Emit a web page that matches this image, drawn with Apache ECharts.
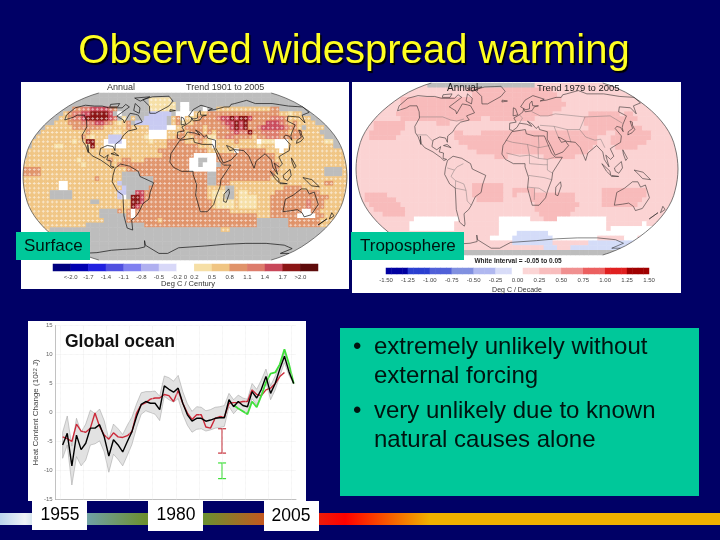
<!DOCTYPE html>
<html>
<head>
<meta charset="utf-8">
<script src="https://cdn.jsdelivr.net/npm/echarts@6/dist/echarts.min.js"></script>
<style>
  html, body { margin: 0; background: #000066; }
  #main { width: 720px; height: 540px; }
</style>
</head>
<body>
<div id="main"></div>
<script>
// ocean heat content
var oceanYears = [1955.5,1956.5,1957.5,1958.5,1959.5,1960.5,1961.5,1962.5,1963.5,1964.5,
  1965.5,1966.5,1967.5,1968.5,1969.5,1970.5,1971.5,1972.5,1973.5,1974.5,
  1975.5,1976.5,1977.5,1978.5,1979.5,1980.5,1981.5,1982.5,1983.5,1984.5,
  1985.5,1986.5,1987.5,1988.5,1989.5,1990.5,1991.5,1992.5,1993.5,1994.5,
  1995.5,1996.5,1997.5,1998.5,1999.5,2000.5,2001.5,2002.5,2003.5,2004.5,2005.5];
var blackLine = [-5.6,-3.6,-9.2,-3.9,-6.4,-5.3,-2.7,-2.7,-2.1,-4.2,
  -7.5,-4.7,-5.6,-6.8,-5.0,-3.3,-0.7,1.4,1.9,1.6,
  1.6,0.5,4.6,4.0,3.5,4.2,1.6,-0.4,-1.5,-1.0,
  -1.0,-1.5,-1.3,-1.0,-0.9,-0.9,2.2,1.0,1.9,1.2,
  1.0,3.6,2.5,4.0,6.2,3.3,5.0,7.5,9.7,7.0,5.0];
var redLine = [-4.2,-4.5,-5.0,-2.0,-3.2,-3.4,-2.7,-0.1,-2.4,-3.9,
  -4.6,-3.5,-4.2,-4.3,-4.0,-3.3,-0.1,1.3,1.7,2.3,
  2.5,2.5,3.1,2.9,1.9,3.8,1.6,-0.1,-1.2,-0.4,
  -0.4,-2.5,-2.7,-1.0,-0.7,-0.8,1.6,1.7,1.7,1.9,
  1.9,3.9,3.1,2.9,3.9,4.2,5.0,6.2,6.9];
var greenYears = [1992.5,1993.5,1994.5,1995.5,1996.5,1997.5,1998.5,1999.5,2000.5,2001.5,2002.5,2003.5,2004.5,2005.5];
var greenLine = [1.3,0.7,0.2,-0.3,1.9,0.9,2.9,5.2,6.7,6.9,8.3,10.9,8.3,5.0];
var bandUpper = [-3.4,-0.6,-5.8,-1.0,-3.4,-2.0,0.4,-0.2,0.6,-1.4,
  -4.6,-2.0,-2.8,-3.8,-2.2,-0.8,1.5,3.4,3.6,3.6,
  3.7,2.8,6.3,6.0,5.4,6.4,3.6,1.5,0.2,1.0,
  0.9,0.3,0.5,0.9,1.0,1.2,3.3,2.2,3.0,2.5,
  2.3,5.0,4.0,5.6,7.5,4.6,6.3,8.3,10.3,7.4,5.1];
var bandLower = [-7.9,-5.6,-12.5,-7.6,-9.2,-8.2,-5.6,-5.4,-4.9,-6.8,
  -10.3,-7.2,-8.1,-9.2,-7.4,-5.5,-2.6,-0.3,0.3,0.0,
  -0.3,-1.4,2.8,2.2,1.8,2.4,-0.3,-2.2,-3.4,-2.9,
  -2.8,-3.2,-3.0,-2.7,-2.6,-2.4,1.0,-0.2,0.7,0.1,
  -0.1,2.4,1.3,2.9,5.1,2.2,3.9,6.3,8.6,6.4,4.9];
var errorBars = [[1990,-7.0,-2.8],[1990,-11.4,-8.7]];
var gridYears = [1955,1960,1965,1970,1975,1980,1985,1990,1995,2000,2005];

// surface trend map, 5 degree cells, one string per row from the north
var surfaceKeys = '.wb1234567';
var surfaceRows = [
'............ ............ ............ ............ ............ ............',
'............ ............ ....11111... ............ ............ ............',
'............ ............ ....111111.w w........... ............ ............',
'...........3 344555543... ....111111.w w...w..22222 222222233... ............',
'.........234 45566665.w.. ....bbbbb.ww ww2223333333 333333333221 22..........',
'........2234 456666654.1. 2..bbbbb.23w 212333345565 665333344432 2222........',
'.......22233 344455432123 .bbbbbbb.231 223333334556 563333555432 32222.......',
'.....2222223 333333222223 2222bbbbww22 333323333456 563345555543 32.2222.....',
'....22222222 223222221122 2222wwww2223 233323233345 446334444332 332222......',
'...222222222 2321222bbb22 2221wwww2233 223331133443 333233444333 3322222.....',
'..2222222221 226622wbbbw2 222212223333 222321w22223 2222w111www2 222222211...',
'..2222211222 221622wwwww2 222222223333 333222w22222 22221222www2 222222222...',
'.22222222222 222222222222 222222333333 33333222222w 333333222w22 222222222222',
'.22222222222 222222222222 222222233333 33wwwww33333 333333332222 222222222222',
'222222222222 122222232233 222333333333 3ww..ww33333 333333332222 222222222222',
'222222222222 212222222333 333333333333 3ww.www.3333 333333333222 222222222222',
'333322222222 222222222223 333333333333 3wwwwww33333 333333333222 2222222....2',
'333322222222 2222222222.. ..3333333333 33333..33333 333333332222 2222222....2',
'222222222222 2222322222.. .....3333333 33333..33333 333333322222 222222222222',
'22222222ww22 222222222b.. .....3333333 33333..33322 222222222222 222222233222',
'22222222ww22 2222222222b. ....33333333 333332222..2 222222222233 332222222222',
'222222.....2 222222222bb. .55333333333 333332111..2 112222223333 333333222222',
'222222.....2 222222222bw. 665333333333 333332111..2 111122233333 333333332222',
'222222222222 222..2222222 665333333333 333333211112 111122233333 333433322222',
'222222222222 222222222222 653333333333 333333211112 111122233333 333433322222',
'222222222222 22222....323 w33333333333 333333333322 222222233333 33ww33222222',
'222222222222 22222......3 w33333333333 333333333333 333322233333 3wwww3322222',
'222222222222 222222.....3 333333233333 333333333333 3333.......3 333333222222',
'222222222222 22.......... ...333333333 333333333333 3333.......3 333333222222',
'222222...... ............ ............ ........22.. ............ ............',
'............ ............ ............ ............ ............ ............',
'............ ............ ............ ............ ............ ............',
'............ ............ ............ ............ ............ ............',
'............ ............ ............ ............ ............ ............',
'............ ............ ............ ............ ............ ............',
'............ ............ ............ ............ ............ ............'
];
var surfaceColors = ['#BDBDBD','#FFFFFF','#C9CBF2','#F6DFA6','#F0C583','#E0936A','#DD7C6C','#C8485A','#8B1515','#5E0B0B'];

// troposphere trend map
var tropoKeys = '.wb12';
var tropoRows = [
'111111111111 1111........ ............ ....11111111 111111111111 111111111111',
'111111111111 111111111111 122222222222 222222221111 111111111111 111111111111',
'111111111111 111111111111 112222222222 222222222111 111111111111 111111111111',
'111111111122 222222222222 222222222222 222222222211 111111111111 111111111111',
'111111111122 222222222222 222222222222 222222222221 111111111111 111111111111',
'111111111122 222222222222 222222222222 222222222211 111111111111 111111111111',
'111111111222 222222222222 222222222222 222222221111 111122222221 221111111111',
'111111111122 222222222222 222211222222 222211111111 111222222222 222111111111',
'111122222221 111111222111 111111111111 111111111111 111222222222 221111111111',
'111122222221 111111111111 111111111111 111111111111 111122222222 222211111111',
'111222222211 111111111122 111122222222 222222222222 222222221122 222222111111',
'111222222111 111111111122 222222222222 222222222222 222222111222 222222111111',
'111111111111 111111111112 222222222222 222222222222 222222111222 222221111111',
'111111111111 111111111111 122222222222 222222222222 222221111122 222111111111',
'111111111111 111111111111 111222222222 222222222222 222211111111 111111111111',
'111111111111 111111111111 111111122211 111111222222 211111111111 111111111111',
'111111111111 111111111111 111111111111 111111111111 111111111111 111111111111',
'111111111111 111111111111 111111111111 111111111111 111111111111 111111111111',
'111111111111 111111111111 111111111111 111111111111 111111111111 111111111111',
'111111111111 111111111111 111111111111 111111111111 111111111111 111111111111',
'111111111111 111111111111 111111111111 111111111111 111111111111 111111111111',
'111111111111 111111111111 112222222111 111111111111 111111111111 111111111111',
'111111111111 111111111111 112222222112 222211111111 111111122222 222221111111',
'112222211111 111111111111 112222222112 111222222222 211111122222 222221111111',
'112222222111 111111111111 111222222111 111222222222 211111122222 222211111111',
'111222222211 111111111111 111111111111 111122222222 221111122222 222111111111',
'111122222221 111111111111 111111111111 111122222222 211111111111 111111111111',
'111111222221 111111111111 111111111111 111112222222 111111111111 111111111111',
'111111111111 1wwwwwwwwww1 11111111wwww www111222www wwwwwwww1111 111111111111',
'111111111111 wwwwwwwwww11 11111111wwww wwwwwwwwwwww wwwwwwww1111 1111w1111111',
'111111111111 wwwwwwwwww11 11111111wwww wwwwwwwwwwww wwwwwwww1www wwwwwwwwww11',
'111111111111 111111111111 11111111wwww bbbbbbbwwwww wwwwwwwwwwww wwwwwwwwww11',
'111111111111 111111111111 111111wwwwwb bbbbbbbbwwww wwwwww111111 www111111111',
'111111111111 111111111111 11111111111b bbbbbbbb1111 1111bbbbbbbb bbbbb1111111',
'111111111111 111111111111 111111111111 111111bbb111 bbbbbbbbbbbb bbb111111111',
'............ ............ ............ ............ ............ ............'
];
var tropoColors = ['#BDBDBD','#FFFFFF','#D4DCF8','#FBD3D3','#F8BBBB'];

// colour bars under the two maps
var surfaceBarLevels = [0,1,2,3,4,5,6,7,8,9,10,11,12,13,14];
var surfaceBarColors = ['#00007F','#0000B0','#2020E0','#5050E0','#8080F0','#B0B0F0','#D8D8F8','#FFFFFF',
  '#F6DFA6','#F0C583','#E0936A','#DD7C6C','#C8485A','#8B1515','#5E0B0B'];
var surfaceBarTicks = {1:'<-2.0',2:'-1.7',3:'-1.4',4:'-1.1',5:'-0.8',6:'-0.5',7:'-0.2',7.5:'0',8:'0.2',
  9:'0.5',10:'0.8',11:'1.1',12:'1.4',13:'1.7',14:'>2.0'};
var tropoBarLevels = [0,0,0,0,1,1,1,1,2,2,2,2,3,3,3,3,4,4,4,4,5,5,5,6,6,7,7,7,8,8,8,8,9,9,9,9,10,10,10,10,11,11,11,11,12,12,12,12];
var tropoBarColors = ['#0000A0','#2A3FD0','#5060D8','#8090E0','#B0B8F0','#D8DCF8','#FFFFFF',
  '#FBD5D5','#F8BDBD','#F09090','#EC6060','#E02020','#A00000'];
var tropoBarTicks = {0:'-1.50',4:'-1.25',8:'-1.00',12:'-0.75',16:'-0.50',20:'-0.25',24:'0.00',28:'0.25',
  32:'0.50',36:'0.75',40:'1.00',44:'1.25',48:'1.50'};

// Robinson table, every 5 degrees from the equator
var robinsonLen = [1,.9986,.9954,.99,.9822,.973,.96,.9427,.9216,.8962,.8679,.835,.7986,.7597,.7186,.6732,.6213,.5722,.5322];
var robinsonDfe = [0,.062,.124,.186,.248,.31,.372,.434,.4958,.5571,.6176,.6769,.7346,.7903,.8435,.8936,.9394,.9761,1];

// coastlines, lon/lat
var coasts = [
  [[-166,68],[-156,71],[-140,70],[-128,70],[-115,68],[-95,68],[-94,72],[-85,69],[-82,67],[-94,59],[-92,57],[-82,55],[-79,52],[-78,62],[-70,61],[-65,60],[-56,53],[-65,50],[-60,46],[-70,44],[-74,40],[-76,35],[-81,31],[-80,25],[-83,29],[-90,30],[-97,27],[-97,21],[-91,18],[-87,21],[-88,16],[-83,15],[-83,10],[-79,9],[-82,8],[-86,11],[-95,16],[-105,20],[-110,24],[-113,31],[-110,23],[-115,30],[-120,34],[-124,40],[-124,48],[-130,54],[-140,60],[-150,60],[-152,58],[-160,55],[-165,60],[-166,68]],
  [[-78,8],[-72,12],[-62,10],[-52,5],[-50,0],[-35,-6],[-39,-15],[-41,-22],[-48,-26],[-54,-34],[-58,-38],[-65,-42],[-68,-52],[-70,-54],[-74,-50],[-73,-38],[-70,-18],[-76,-14],[-81,-5],[-80,1],[-78,8]],
  [[-6,35],[10,37],[11,33],[20,31],[32,31],[35,24],[39,15],[43,11],[51,11],[40,-3],[39,-10],[35,-20],[33,-27],[26,-34],[18,-34],[12,-18],[13,-8],[9,2],[9,5],[-4,5],[-13,9],[-17,14],[-16,22],[-10,30],[-6,35]],
  [[-9,37],[-9,43],[-1,44],[-4,48],[3,51],[8,54],[9,57],[11,54],[20,55],[24,59],[30,60],[22,60],[22,65],[18,62],[17,57],[12,56],[5,59],[12,66],[25,71],[41,67],[34,65],[44,66],[60,69],[68,69],[73,72],[80,73],[105,77],[113,73],[140,73],[160,70],[180,69],[178,63],[163,60],[156,52],[156,58],[142,59],[135,54],[141,50],[130,42],[127,39],[126,35],[125,39],[121,40],[118,38],[122,31],[119,25],[110,21],[106,19],[109,12],[105,9],[100,13],[103,2],[98,9],[97,16],[91,22],[80,15],[77,8],[72,20],[67,25],[57,26],[51,29],[48,30],[51,25],[56,26],[59,22],[52,16],[43,13],[39,21],[35,28],[36,35],[27,37],[26,40],[23,38],[19,42],[13,45],[18,40],[12,42],[3,43],[0,39],[-5,36],[-9,37]],
  [[-73,78],[-60,82],[-30,83],[-20,76],[-25,70],[-42,62],[-50,62],[-55,70],[-73,78]],
  [[114,-22],[122,-18],[130,-12],[136,-12],[140,-17],[145,-15],[153,-27],[150,-37],[143,-39],[138,-35],[131,-32],[124,-33],[115,-34],[114,-22]],
  [[49,-12],[50,-16],[47,-25],[44,-24],[44,-17],[49,-12]],
  [[-180,-78],[-150,-77],[-120,-74],[-100,-73],[-75,-72],[-62,-70],[-58,-63],[-60,-68],[-45,-78],[-30,-78],[-10,-71],[30,-69],[60,-67],[90,-66],[120,-66],[150,-68],[170,-72],[165,-78],[180,-78]],
  [[-5,50],[1,51],[-2,57],[-5,58],[-5,50]],
  [[-22,64],[-14,65],[-16,66],[-22,66],[-22,64]],
  [[130,32],[136,34],[141,37],[141,41],[143,44],[141,45],[139,38],[132,35],[130,32]],
  [[109,1],[117,7],[118,1],[114,-4],[110,-2],[109,1]],
  [[95,5],[104,-2],[105,-6],[100,-2],[95,5]],
  [[131,-1],[141,-3],[150,-10],[141,-9],[135,-4],[131,-1]],
  [[172,-41],[174,-42],[167,-47],[172,-41]],
  [[173,-35],[178,-38],[175,-41],[173,-35]],
  [[-80,73],[-68,68],[-65,62],[-75,65],[-80,73]],
  [[-90,80],[-65,82],[-75,76],[-90,80]],
  [[-118,72],[-105,73],[-103,69],[-115,69],[-118,72]],
  [[106,-6],[114,-7],[114,-8],[106,-7],[106,-6]],
  [[120,18],[122,17],[124,10],[122,8],[120,14],[120,18]],
  [[-84,22],[-75,20],[-80,23],[-84,22]]
];
// a few country borders, only the right map has them
var borders = [
  [[-125,49],[-95,49],[-83,46],[-75,45],[-67,47]],
  [[-117,32],[-106,32],[-97,26]],
  [[-70,-18],[-58,-20],[-58,-30],[-54,-34]],
  [[-70,-18],[-69,-11],[-74,-7],[-70,-1],[-78,1]],
  [[-70,-1],[-67,2],[-60,5]],
  [[-58,-20],[-60,-14],[-69,-11]],
  [[-13,27],[-5,25],[12,23],[25,20],[25,31]],
  [[25,20],[37,22]],
  [[12,23],[14,13],[3,12],[-12,15]],
  [[14,13],[24,10],[24,20]],
  [[24,10],[34,9],[42,11]],
  [[34,9],[34,-1],[40,-4]],
  [[14,5],[14,13]],
  [[14,5],[30,4],[34,4]],
  [[13,-6],[30,-8],[39,-10]],
  [[12,-17],[25,-18],[33,-22]],
  [[20,-18],[20,-29]],
  [[28,41],[45,40],[48,30]],
  [[45,40],[60,37],[75,37],[80,30],[90,27],[97,28],[100,20]],
  [[60,37],[62,25]],
  [[50,52],[87,49],[120,50],[130,43]],
  [[87,49],[75,37]],
  [[20,54],[30,50],[40,50],[50,52]],
  [[3,51],[7,48],[3,43]]
];

function robinson(p) {
  var a = Math.min(Math.abs(p[1]), 90) / 5;
  var i = Math.min(Math.floor(a), 17);
  var f = a - i;
  var len = robinsonLen[i] + (robinsonLen[i + 1] - robinsonLen[i]) * f;
  var dfe = robinsonDfe[i] + (robinsonDfe[i + 1] - robinsonDfe[i]) * f;
  return [36 + 36 * len * p[0] / 180, 18 - 18 * dfe * (p[1] < 0 ? -1 : 1)];
}

function cellsOf(rows, keys) {
  var out = [];
  rows.forEach(function (row, r) {
    var s = row.replace(/ /g, '');
    for (var c = 0; c < s.length; c++) out.push([c, r, keys.indexOf(s[c])]);
  });
  return out;
}

function plusCells(rows) {
  var out = [];
  rows.forEach(function (row, r) {
    var s = row.replace(/ /g, '');
    for (var c = 0; c < s.length; c++) if ('1234567'.indexOf(s[c]) >= 0) out.push([c, r]);
  });
  return out;
}

// left and right edge of the map, north to south
function mapEdge(side) {
  var pts = [];
  for (var lat = 90; lat >= -90; lat -= 5) pts.push(robinson([side * 180, lat]));
  return pts;
}

function indexList(n) {
  var a = [];
  for (var i = 0; i < n; i++) a.push(i);
  return a;
}

function pairs(xs, ys) {
  return ys.map(function (y, i) { return [xs[i], y]; });
}

function hiddenCat(n, grid, inverse) {
  return { type: 'category', gridIndex: grid, data: indexList(n), show: false, inverse: !!inverse };
}
function hiddenVal(max, grid, inverse) {
  return { type: 'value', gridIndex: grid, min: 0, max: max, show: false, inverse: !!inverse };
}
function barLabelAxis(max, interval, grid, ticks) {
  return {
    type: 'value', gridIndex: grid, min: 0, max: max, interval: interval, position: 'bottom',
    axisLine: { show: false }, splitLine: { show: false },
    axisTick: { show: false },
    axisLabel: {
      color: '#444', fontSize: 6, margin: 3, fontFamily: 'Liberation Sans',
      showMinLabel: true, showMaxLabel: true, hideOverlap: false,
      formatter: function (v) { return ticks[v] || ''; }
    }
  };
}

var xAxes = [
  hiddenCat(72, 0), hiddenVal(72, 0),
  hiddenCat(72, 1), hiddenVal(72, 1),
  { type: 'value', gridIndex: 2, min: 1954, max: 2006, axisLabel: { show: false }, axisTick: { show: false },
    splitLine: { show: false }, axisLine: { onZero: false, lineStyle: { color: '#999', width: 0.6 } } },
  hiddenCat(surfaceBarLevels.length, 3), barLabelAxis(15, 0.5, 3, surfaceBarTicks),
  hiddenCat(tropoBarLevels.length, 4), barLabelAxis(48, 4, 4, tropoBarTicks)
];
var yAxes = [
  hiddenCat(36, 0, true), hiddenVal(36, 0, true),
  hiddenCat(36, 1, true), hiddenVal(36, 1, true),
  { type: 'value', gridIndex: 2, min: -15, max: 15, interval: 5,
    name: '{a|Heat Content Change (10}{s|22}{a| J)}', nameLocation: 'middle', nameRotate: 90, nameGap: 6,
    nameTextStyle: { rich: {
      a: { fontSize: 8, color: '#444', fontFamily: 'Liberation Sans' },
      s: { fontSize: 5.5, color: '#444', fontFamily: 'Liberation Sans', verticalAlign: 'top' }
    } },
    axisLabel: { color: '#666', fontSize: 6, margin: 3, fontFamily: 'Liberation Sans' },
    axisTick: { show: false },
    axisLine: { show: true, onZero: false, lineStyle: { color: '#999', width: 0.6 } },
    splitLine: { lineStyle: { color: '#E4E4E4', type: 'dotted', width: 0.6 } } },
  hiddenCat(1, 3), hiddenCat(1, 4)
];

function heat(rowsData, x, y) {
  return { type: 'heatmap', xAxisIndex: x, yAxisIndex: y, data: rowsData, silent: true, z: 2, progressive: 0 };
}

// covers the square cell ends outside the map edge
function maskSeries(x, y, side) {
  return {
    type: 'custom', xAxisIndex: x, yAxisIndex: y, data: [0], silent: true, z: 4, clip: false,
    renderItem: function (params, api) {
      var edge = mapEdge(side);
      var corner = side < 0 ? -0.2 : 72.2;
      var top = edge[0][0], bottom = edge[edge.length - 1][0];
      var pts = [[corner, -0.2], [top, -0.2]].concat(edge, [[bottom, 36.2], [corner, 36.2]]).map(function (p) { return api.coord(p); });
      return { type: 'polygon', shape: { points: pts }, style: { fill: '#FFFFFF' } };
    }
  };
}

function lineOf(points, x, y, color, width) {
  return {
    type: 'line', xAxisIndex: x, yAxisIndex: y, data: points.map(robinson), showSymbol: false, silent: true,
    z: 5, lineStyle: { color: color, width: width }, clip: false
  };
}

var series = [
  heat(cellsOf(surfaceRows, surfaceKeys), 0, 0),
  heat(cellsOf(tropoRows, tropoKeys), 2, 2),
  heat(surfaceBarLevels.map(function (v, i) { return [i, 0, v]; }), 5, 5),
  heat(tropoBarLevels.map(function (v, i) { return [i, 0, v]; }), 7, 6),
  { type: 'scatter', xAxisIndex: 0, yAxisIndex: 0, data: plusCells(surfaceRows), silent: true, z: 3,
    symbol: 'path://M1,0h1v1h1v1h-1v1h-1v-1h-1v-1h1z', symbolSize: 2.8,
    itemStyle: { color: '#FFFFFF', opacity: 0.6 } },
  maskSeries(1, 1, -1), maskSeries(1, 1, 1),
  maskSeries(3, 3, -1), maskSeries(3, 3, 1)
];

[[1, 1], [3, 3]].forEach(function (ax) {
  [-1, 1].forEach(function (side) {
    series.push({
      type: 'line', xAxisIndex: ax[0], yAxisIndex: ax[1], data: mapEdge(side), showSymbol: false, silent: true,
      z: 5, lineStyle: { color: '#444', width: 0.7 }, clip: false
    });
  });
});
coasts.forEach(function (c) { series.push(lineOf(c, 1, 1, '#111', 0.7)); });
borders.forEach(function (c) { series.push(lineOf(c, 3, 3, '#666', 0.4)); });
coasts.forEach(function (c) { series.push(lineOf(c, 3, 3, '#222', 0.55)); });

// ocean chart
series.push({
  type: 'custom', xAxisIndex: 4, yAxisIndex: 4, data: [0], silent: true, z: 2,
  renderItem: function (params, api) {
    var up = oceanYears.map(function (y, i) { return api.coord([y, bandUpper[i]]); });
    var low = oceanYears.map(function (y, i) { return api.coord([y, bandLower[i]]); }).reverse();
    return { type: 'polygon', shape: { points: up.concat(low) },
      style: { fill: '#E2E2E2', stroke: '#9A9A9A', lineWidth: 0.5 } };
  }
});
series.push({
  type: 'line', xAxisIndex: 4, yAxisIndex: 4, data: [], silent: true, z: 1,
  markLine: {
    silent: true, symbol: 'none', label: { show: false }, animation: false,
    lineStyle: { color: '#E4E4E4', type: 'dotted', width: 0.6 },
    data: gridYears.map(function (y) { return { xAxis: y }; })
  }
});
function oceanLine(xs, ys, color, width, z) {
  return { type: 'line', xAxisIndex: 4, yAxisIndex: 4, data: pairs(xs, ys), showSymbol: false, silent: true,
    z: z, lineStyle: { color: color, width: width } };
}
series.push(oceanLine(oceanYears, redLine, '#CC2A3A', 1.4, 3));
series.push(oceanLine(greenYears, greenLine, '#3FE03A', 1.8, 4));
series.push(oceanLine(oceanYears, blackLine, '#000', 1.4, 5));
var errorColors = ['#C8323C', '#3FE03A'];
series.push({
  type: 'custom', xAxisIndex: 4, yAxisIndex: 4, data: errorBars, silent: true, z: 4,
  encode: { x: 0, y: [1, 2] },
  renderItem: function (params, api) {
    var low = api.coord([api.value(0), api.value(1)]);
    var high = api.coord([api.value(0), api.value(2)]);
    var st = { stroke: errorColors[params.dataIndex], lineWidth: 1.2 };
    return { type: 'group', children: [
      { type: 'line', shape: { x1: low[0], y1: low[1], x2: high[0], y2: high[1] }, style: st },
      { type: 'line', shape: { x1: low[0] - 4, y1: low[1], x2: low[0] + 4, y2: low[1] }, style: st },
      { type: 'line', shape: { x1: high[0] - 4, y1: high[1], x2: high[0] + 4, y2: high[1] }, style: st }
    ] };
  }
});

function pieces(colors) {
  return colors.map(function (c, i) { return { value: i, color: c }; });
}

function box(x, y, w, h, fill, z) {
  return { type: 'rect', shape: { x: x, y: y, width: w, height: h }, style: { fill: fill }, z: z, silent: true };
}
function label(text, x, y, font, fill, align, z) {
  return { type: 'text', x: x, y: y, z: z || 100, silent: true,
    style: { text: text, font: font, fill: fill, textAlign: align || 'left', textVerticalAlign: 'middle' } };
}

var ARIAL = '"Liberation Sans"';
var title = label('Observed widespread warming', 354, 52, '40px ' + ARIAL, '#FFFF22', 'center');
title.style.textShadowColor = '#000000';
title.style.textShadowOffsetX = 1.5;
title.style.textShadowOffsetY = 1.5;
title.style.textShadowBlur = 1;

var graphics = [
  { type: 'rect', shape: { x: 0, y: 513, width: 720, height: 12 }, z: -5, silent: true,
    style: { fill: new echarts.graphic.LinearGradient(0, 0, 1, 0, [
      { offset: 0, color: '#BBD4EE' }, { offset: 25 / 720, color: '#EEF2F5' }, { offset: 50 / 720, color: '#9CC4DC' },
      { offset: 90 / 720, color: '#6FA0A0' }, { offset: 145 / 720, color: '#6D8F30' }, { offset: 205 / 720, color: '#6D8F30' },
      { offset: 262 / 720, color: '#C05A20' }, { offset: 345 / 720, color: '#FF0000' }, { offset: 430 / 720, color: '#F0B000' },
      { offset: 1, color: '#F0B000' }]) } },
  box(21, 82, 328, 207, '#FFFFFF', -4),
  box(352, 82, 329, 211, '#FFFFFF', -4),
  box(28, 321, 278, 180, '#FFFFFF', -4),
  box(340, 328, 359, 168, '#00C89A', -4),
  box(16, 232, 74, 28, '#00C89A', 90),
  box(351, 232, 113, 28, '#00C89A', 90),
  box(32, 501, 55, 29, '#FFFFFF', 90),
  box(148, 501, 55, 30, '#FFFFFF', 90),
  box(264, 501, 55, 30, '#FFFFFF', 90),
  title,
  label('Annual', 107, 88, '9px ' + ARIAL, '#333'),
  label('Trend 1901 to 2005', 186, 88, '9px ' + ARIAL, '#333'),
  label('Deg C / Century', 188, 284, '7.5px ' + ARIAL, '#333', 'center'),
  label('Annual', 447, 88, '10px ' + ARIAL, '#222'),
  label('Trend 1979 to 2005', 537, 88, '9.5px ' + ARIAL, '#222'),
  label('White Interval = -0.05 to 0.05', 518, 261, 'bold 6.5px ' + ARIAL, '#222', 'center'),
  label('Deg C / Decade', 517, 290, '7px ' + ARIAL, '#333', 'center'),
  label('Surface', 24, 246, '17px ' + ARIAL, '#001410'),
  label('Troposphere', 360, 246, '17px ' + ARIAL, '#001410'),
  label('Global ocean', 65, 342, 'bold 17.5px ' + ARIAL, '#111'),
  label('1955', 60, 515, '17.5px ' + ARIAL, '#000', 'center'),
  label('1980', 176, 515, '17.5px ' + ARIAL, '#000', 'center'),
  label('2005', 291, 516, '17.5px ' + ARIAL, '#000', 'center'),
  label('\u2022', 353, 347, '24px ' + ARIAL, '#001410'),
  label('extremely unlikely without', 374, 347, '24px ' + ARIAL, '#001410'),
  label('external forcing', 374, 376, '24px ' + ARIAL, '#001410'),
  label('\u2022', 353, 411, '24px ' + ARIAL, '#001410'),
  label('very unlikely due to known', 374, 411, '24px ' + ARIAL, '#001410'),
  label('natural causes alone', 374, 440, '24px ' + ARIAL, '#001410')
];

var chart = echarts.init(document.getElementById('main'));
chart.setOption({
  animation: false,
  backgroundColor: '#000066',
  grid: [
    { left: 23, top: 93, width: 324, height: 167 },
    { left: 356, top: 83, width: 322, height: 172 },
    { left: 55.7, top: 325.5, width: 240.3, height: 174 },
    { left: 53, top: 264, width: 265, height: 7 },
    { left: 386, top: 268, width: 263, height: 6 }
  ],
  xAxis: xAxes,
  yAxis: yAxes,
  visualMap: [
    { type: 'piecewise', show: false, seriesIndex: 0, dimension: 2, pieces: pieces(surfaceColors) },
    { type: 'piecewise', show: false, seriesIndex: 1, dimension: 2, pieces: pieces(tropoColors) },
    { type: 'piecewise', show: false, seriesIndex: 2, dimension: 2, pieces: pieces(surfaceBarColors) },
    { type: 'piecewise', show: false, seriesIndex: 3, dimension: 2, pieces: pieces(tropoBarColors) }
  ],
  series: series,
  graphic: graphics
});
</script>
</body>
</html>
